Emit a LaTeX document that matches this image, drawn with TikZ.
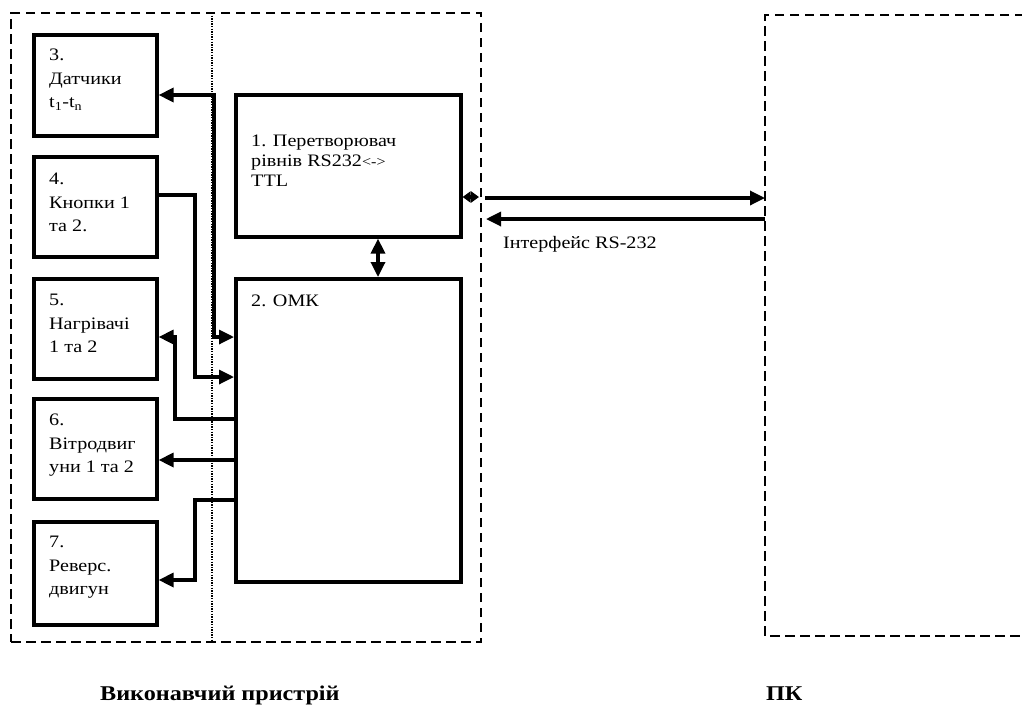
\documentclass[tikz,border=0pt]{standalone}
\usepackage{fontspec}
\setmainfont{Liberation Serif}[FakeStretch=1.15]
\usetikzlibrary{arrows.meta,calc}
\begin{document}
\begin{tikzpicture}[x=1pt,y=-1pt,
  box/.style={draw,line width=3.6pt,inner sep=0pt,outer sep=1.8pt,anchor=north west},
  lbl/.style={inner sep=0pt,anchor=north west,align=left,font=\fontsize{17.5}{23.5}\selectfont},
  lblone/.style={inner sep=0pt,anchor=north west,align=left,font=\fontsize{17.5}{20}\selectfont},
  title/.style={inner sep=0pt,anchor=base west,font=\fontsize{21}{24}\selectfont\bfseries},
  conn/.style={line width=3.3pt,>={Triangle[length=15pt,width=14pt]}},
  small/.style={line width=3.3pt,>={Triangle[length=8pt,width=11pt]}},
  frame/.style={draw,line width=2.9pt,dash pattern=on 9.5pt off 5.5pt},
  divider/.style={line width=1.6pt,dash pattern=on 1.4pt off 1.2pt},
]
\useasboundingbox (0,0) rectangle (1022,705);

% outer frames
\node[frame,inner sep=0pt,outer sep=0pt,anchor=north west,minimum width=470pt,minimum height=629pt] (dev) at (11,13) {};
\coordinate (pcNW) at (765,15);
\coordinate (pcSW) at (765,636);
\coordinate (pcNE) at (1024,15);
\coordinate (pcSE) at (1024,636);
\draw[frame] (pcNE) -- (pcNW) -- (pcSW) -- (pcSE);

% divider
\coordinate (divT) at (212,13);
\coordinate (divB) at (212,642);
\draw[divider] (divT) -- (divB);

% blocks
\node[box,minimum width=123pt,minimum height=101pt] (b3) at (32,33) {};
\node[box,minimum width=123pt,minimum height=100pt] (b4) at (32,155) {};
\node[box,minimum width=123pt,minimum height=100pt] (b5) at (32,277) {};
\node[box,minimum width=123pt,minimum height=100pt] (b6) at (32,397) {};
\node[box,minimum width=123pt,minimum height=103pt] (b7) at (32,520) {};
\node[box,minimum width=225pt,minimum height=142pt] (b1) at (234,93) {};
\node[box,minimum width=225pt,minimum height=303pt] (b2) at (234,277) {};

% texts
\node[lbl] (t3) at (49,49) {3.\\Датчики\\t\textsubscript{1}-t\textsubscript{n}};
\node[lbl] (t4) at (49,173) {4.\\Кнопки 1\\та 2.};
\node[lbl] (t5) at (49,294) {5.\\Нагрівачі\\1 та 2};
\node[lbl] (t6) at (49,414) {6.\\Вітродвиг\\уни 1 та 2};
\node[lbl] (t7) at (49,536) {7.\\Реверс.\\двигун};
\node[lblone] (t1) at (251,135) {1. Перетворювач\\рівнів RS232{\fontsize{14}{14}\selectfont<->}\\TTL};
\node[lblone] (t2) at (251,295) {2. ОМК};
\node[lblone] (tif) at (503,236) {Інтерфейс RS-232};
\node[title] (tdev) at (100,700) {Виконавчий пристрій};
\node[title] (tpc) at (766,700) {ПК};

% connectors
\draw[conn,<->] ($(b3.north east)+(0,62)$) -- (214,95) -- (214,337) -- ($(b2.north west)+(0,60)$);
\draw[conn,->] ($(b4.north east)+(0,40)$) -- (195,195) -- (195,377) -- ($(b2.north west)+(0,100)$);
\draw[conn,->] ($(b2.north west)+(0,142)$) -- (175,419) -- (175,337) -- ($(b5.north east)+(0,60)$);
\draw[conn,->] ($(b2.north west)+(0,183)$) -- ($(b6.north east)+(0,63)$);
\draw[conn,->] ($(b2.north west)+(0,223)$) -- (195,500) -- (195,580) -- ($(b7.north east)+(0,60)$);
\draw[conn,<->] (b1.south -| 378,0) -- (b2.north -| 378,0);
\draw[small,<->] ($(b1.north east)+(0,104)$) -- ($(dev.north east)+(-2,184)$);
\draw[conn,->] ($(dev.north east)+(4,185)$) -- ($(pcNW)+(0,183)$);
\draw[conn,->] ($(pcNW)+(0,204)$) -- ($(dev.north east)+(5,206)$);
\end{tikzpicture}
\end{document}
